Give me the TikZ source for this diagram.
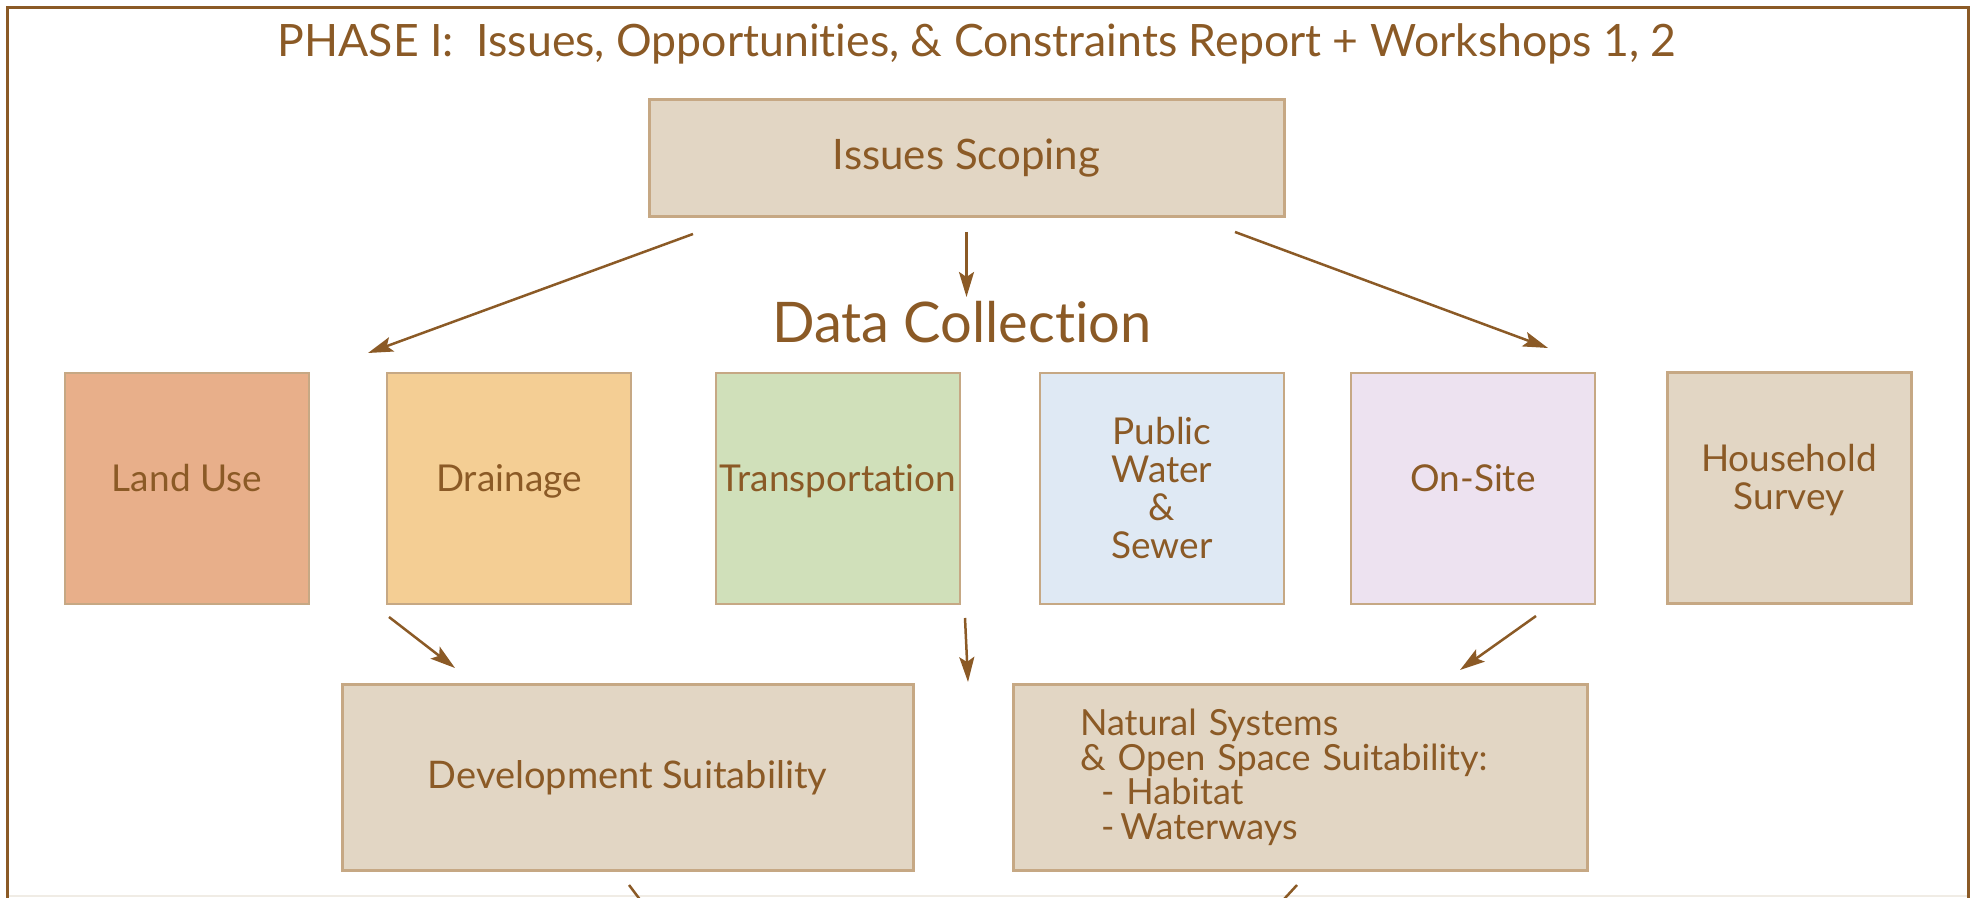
\documentclass[tikz,border=0pt]{standalone}
\usepackage{fontspec}
\setmainfont{Lato}[Ligatures = NoCommon]
\usepackage{tikz}
\usetikzlibrary{positioning}
\usetikzlibrary{arrows.meta}

\definecolor{brn}{RGB}{139,90,38}
\definecolor{boxline}{RGB}{198,168,132}
\definecolor{beige}{RGB}{226,214,196}
\definecolor{landC}{RGB}{232,175,138}
\definecolor{drainC}{RGB}{244,206,148}
\definecolor{transC}{RGB}{208,224,186}
\definecolor{pubC}{RGB}{223,233,244}
\definecolor{onC}{RGB}{237,226,240}
\definecolor{faint}{RGB}{240,236,229}

\begin{document}
\begin{tikzpicture}[
            x = 1pt, y = 1pt,
            text = brn,
            databox/.style = {
                draw = boxline,
                fill = #1,
                line width = 2.5pt,
                minimum width = 244pt,
                minimum height = 231pt,
                inner sep = 0pt,
                outer sep = 0pt,
                align = center,
                font = \fontsize{37}{38}\selectfont
            },
            databox/.default = beige,
            oneline/.style = {
                text height = 34pt,
                text depth = 28pt
            },
            bigbox/.style = {
                databox,
                line width = 3pt,
                minimum width = #1,
                minimum height = 185pt
            },
            link/.style = {
                draw = brn,
                line width = 2.5pt
            },
            arr/.style = {
                link,
                -{Stealth[length = 25pt, width = 15pt, inset = 5pt]}
            },
            node distance = {78pt}
            ]
            \path[use as bounding box] (0,0) rectangle (1970,897);
            \clip (0,0) rectangle (1970,897);
            \draw[faint, line width = 2pt] (7,1) -- (1968,1);
            \draw[brn, line width = 3pt] (7,-10) -- (7,889) -- (1968,889) -- (1968,-10);

            \node[font = \fontsize{44.6}{50}\selectfont, anchor = base] (0) at (977,840)
                {PHASE I:\ \ Issues, Opportunities, \& Constraints Report + Workshops 1, 2};

            \node[databox, line width = 3pt, minimum width = 635pt, minimum height = 117pt,
                font = \fontsize{42}{44}\selectfont] (1) at (966.5,738.5) {Issues Scoping};
            \node[font = \fontsize{56}{60}\selectfont, anchor = base] (2) at (962,554) {Data Collection};

            \node[databox=landC, oneline] (3) at (187,408.5) {Land Use};
            \node[databox=drainC, oneline, right=78pt of 3] (4) {Drainage};
            \node[databox=transC, oneline, right=85pt of 4] (5) {Transportation};
            \node[databox=pubC, right=80pt of 5] (6) {Public\\Water\\\&\\Sewer};
            \node[databox=onC, oneline, right=67pt of 6] (7) {On-Site};
            \node[databox, line width = 3pt, right=72pt of 7] (8) {Household\\Survey\rule[-23pt]{0pt}{0pt}};

            \node[bigbox = 571pt, font = \fontsize{38}{40}\selectfont] (9) at (627.5,119.5) {Development Suitability};
            \node[bigbox = 574pt, text width = 440pt, align = left,
                font = \fontsize{36}{34.5}\selectfont] (10) at (1300,119.5)
                {Natural Systems\\
                 \& Open Space Suitability:\\
                 \hspace*{21pt}- Habitat\\
                 \hspace*{21pt}-\,Waterways};

            \draw[arr] ([xshift=44pt, yshift=-17pt]1.south west) -- ([xshift=-19pt, yshift=20pt]4.north west);
            \draw[arr] ([yshift=-15pt]1.south) -- ([yshift=-80pt]1.south);
            \draw[arr] ([xshift=-49pt, yshift=-15pt]1.south east) -- ([xshift=-47pt, yshift=25pt]7.north east);

            \draw[arr] ([xshift=2pt, yshift=-13pt]4.south west) -- ([xshift=113pt, yshift=17pt]9.north west);
            \draw[arr] ([xshift=5pt, yshift=-14pt]5.south east) -- ([xshift=55pt, yshift=3pt]9.north east);
            \draw[arr] ([xshift=63pt, yshift=-12pt]7.south) -- ([xshift=160pt, yshift=15pt]10.north);

            \draw[link] ([xshift=1.5pt, yshift=-15pt]9.south) -- ([xshift=55.5pt, yshift=-87pt]9.south);
            \draw[link] ([xshift=-3pt, yshift=-15pt]10.south) -- ([xshift=-69pt, yshift=-87pt]10.south);
        \end{tikzpicture}
\end{document}
